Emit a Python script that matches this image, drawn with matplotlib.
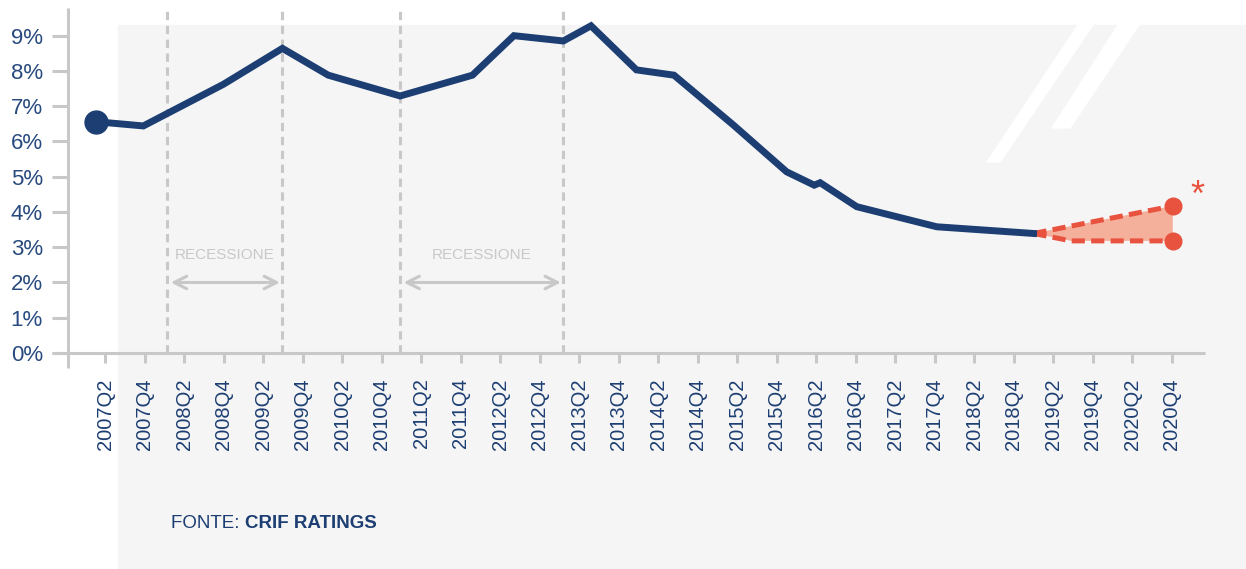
import matplotlib.pyplot as plt
from matplotlib.lines import Line2D
from matplotlib.patches import Rectangle, Polygon

plt.rcParams['lines.scale_dashes'] = False

W, H = 1246, 569
NAVY = '#1c3e72'
LABEL = '#284a7e'
RED = '#e8533f'
SALMON = '#f5b09c'
GREY = '#c8c8c8'
COND = ['Liberation Sans', 'DejaVu Sans']

# x = quarters after 2007Q2, y = rate in %
hist_x = [-0.46, 1.94, 5.99, 8.98, 11.3, 14.94, 18.6, 20.7, 23.2, 24.6, 26.9,
          28.8, 31.8, 34.5, 35.9, 36.2, 38.05, 42.1, 47.0]
hist_y = [6.56, 6.44, 7.62, 8.64, 7.88, 7.29, 7.88, 9.0, 8.85, 9.28, 8.03,
          7.88, 6.47, 5.14, 4.76, 4.83, 4.15, 3.58, 3.39]

up_x = [47.0, 54.05]
up_y = [3.39, 4.17]
low_x = [47.0, 48.9, 54.05]
low_y = [3.39, 3.18, 3.18]

rec_start = [3.15, 14.93]
rec_end = [8.98, 23.2]

tick_pos = list(range(0, 55, 2))
tick_labels = ['2007Q2', '2007Q4', '2008Q2', '2008Q4', '2009Q2', '2009Q4',
               '2010Q2', '2010Q4', '2011Q2', '2011Q4', '2012Q2', '2012Q4',
               '2013Q2', '2013Q4', '2014Q2', '2014Q4', '2015Q2', '2015Q4',
               '2016Q2', '2016Q4', '2017Q2', '2017Q4', '2018Q2', '2018Q4',
               '2019Q2', '2019Q4', '2020Q2', '2020Q4']
y_ticks = [0, 1, 2, 3, 4, 5, 6, 7, 8, 9]
y_labels = ['%d%%' % v for v in y_ticks]

fig = plt.figure(figsize=(W / 100, H / 100), dpi=100)
fig.patch.set_facecolor('white')

# grey panel and white stripes behind the chart
fig.add_artist(Rectangle((118 / W, 0), 1 - 118 / W, (H - 25) / H,
                         transform=fig.transFigure, color='#f5f5f5', zorder=-2))
for pts in [[(987, 162), (1000, 162), (1093, 25), (1078, 25)],
            [(1052, 128), (1070, 128), (1139, 25), (1118, 25)]]:
    fig.add_artist(Polygon([(px / W, 1 - py / H) for px, py in pts],
                           transform=fig.transFigure, color='white', zorder=-1))

ax = fig.add_axes([68 / W, (H - 353) / H, (1205 - 68) / W, (353 - 8) / H])
ax.set_facecolor('none')
ax.set_xlim(-1.873, 55.68)
ax.set_ylim(0, 9.785)
for s in ax.spines.values():
    s.set_visible(False)

# axis lines drawn by hand so they can run past each other
fig.add_artist(Line2D([68 / W, 68 / W], [1 - 8 / H, 1 - 368 / H], color=GREY,
                      lw=2.2, transform=fig.transFigure, solid_capstyle='butt'))
fig.add_artist(Line2D([52 / W, 1205 / W], [1 - 353 / H, 1 - 353 / H], color=GREY,
                      lw=2.2, transform=fig.transFigure, solid_capstyle='butt'))

ax.set_yticks(y_ticks)
ax.set_yticklabels(y_labels, family=COND, fontsize=16, color=LABEL)
ax.set_xticks(tick_pos)
ax.set_xticklabels(tick_labels, rotation=90, family=COND, fontsize=14.5, color=NAVY)
ax.tick_params(axis='y', direction='out', length=11.5, width=2.2, color=GREY, pad=6.5)
ax.tick_params(axis='x', direction='out', length=7.2, width=2.2, color=GREY, pad=11)

# recessions
for a, b in zip(rec_start, rec_end):
    for xv in (a, b):
        ax.axvline(xv, ymin=0, ymax=0.995, color=GREY, lw=2.2, dashes=(6, 4), zorder=1)
    ax.annotate('', xy=(a + 0.18, 2.0), xytext=(b - 0.12, 2.0),
                arrowprops=dict(arrowstyle='<->,head_length=0.9,head_width=0.45',
                                color=GREY, lw=2.2, shrinkA=0, shrinkB=0))
    ax.text((a + b) / 2, 2.78, 'RECESSIONE', family=COND, fontsize=11,
            color=GREY, ha='center', va='center')

# series
ax.plot(hist_x, hist_y, color=NAVY, lw=5, solid_joinstyle='miter', zorder=4)
ax.plot(hist_x[0], hist_y[0], 'o', color=NAVY, ms=16.5, zorder=5)

ax.fill(up_x + low_x[::-1], up_y + low_y[::-1], color=SALMON, lw=0, zorder=2)
ax.plot(up_x, up_y, color=RED, lw=3.6, dashes=(9.5, 4.5), zorder=3)
ax.plot(low_x, low_y, color=RED, lw=3.6, dashes=(9.5, 4.5), zorder=3)
ax.plot([up_x[-1], low_x[-1]], [up_y[-1], low_y[-1]], 'o', color=RED, ms=12, zorder=5)
ax.annotate('*', xy=(up_x[-1], up_y[-1]), xytext=(18, -6), textcoords='offset points',
            fontsize=26, color=RED, family=COND, ha='center', va='bottom')

t1 = fig.text(171 / W, 1 - 523 / H, 'FONTE: ', family=COND, fontsize=13.5, color=NAVY,
              va='center', ha='left')
ax.annotate('CRIF RATINGS', xy=(1, 0.5), xycoords=t1, family=COND, fontsize=13.5,
            fontweight='bold', color=NAVY, va='center', ha='left',
            annotation_clip=False)

fig.savefig('out.png', dpi=100)
